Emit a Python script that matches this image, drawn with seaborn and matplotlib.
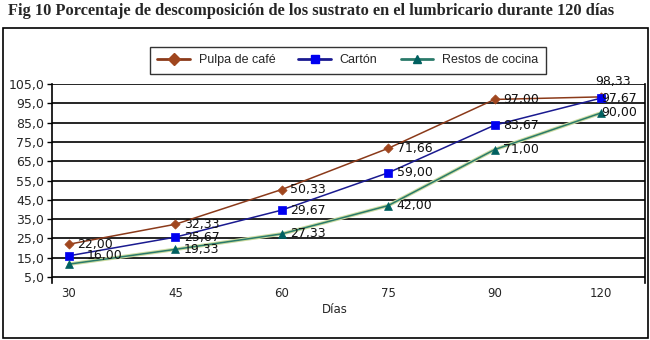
import matplotlib
matplotlib.use("Agg")
import matplotlib.pyplot as plt
import matplotlib.patheffects as pe
from matplotlib.lines import Line2D
from matplotlib.patches import Rectangle
import seaborn as sns
import pandas as pd

# ---- data ----
dias = ["30", "45", "60", "75", "90", "120"]
pulpa = [22.00, 32.33, 50.33, 71.66, 97.00, 98.33]
carton = [16.00, 25.67, 39.67, 59.00, 83.67, 97.67]
restos = [11.67, 19.33, 27.33, 42.00, 71.00, 90.00]
pulpa_lbl = ["22,00", "32,33", "50,33", "71,66", "97,00", "98,33"]
carton_lbl = ["16,00", "25,67", "29,67", "59,00", "83,67", "97,67"]
restos_lbl = ["", "19,33", "27,33", "42,00", "71,00", "90,00"]
series_names = ["Pulpa de café", "Cartón", "Restos de cocina"]
yticks = [5, 15, 25, 35, 45, 55, 65, 75, 85, 95, 105]
title = "Fig 10 Porcentaje de descomposición de los sustrato en el lumbricario durante 120 días"

sns.set_theme(style="white")
plt.rcParams['font.family'] = ['DejaVu Sans']

pos = list(range(len(dias)))
df = pd.DataFrame({
    "pos": pos * 3,
    "val": pulpa + carton + restos,
    "serie": [series_names[0]] * 6 + [series_names[1]] * 6 + [series_names[2]] * 6,
})

line_cols = {series_names[0]: "#8B3A1A", series_names[1]: "#1A1A90", series_names[2]: "#2A7A6A"}
mark_cols = {series_names[0]: "#A0461E", series_names[1]: "#0000F0", series_names[2]: "#006060"}
markers = {series_names[0]: "D", series_names[1]: "s", series_names[2]: "^"}
msizes = {series_names[0]: 22, series_names[1]: 28, series_names[2]: 32}

fig = plt.figure(figsize=(6.5, 3.4), dpi=100)
ax = fig.add_axes([52/650, 1-282.8/340, 593/650, (282.8-84)/340])

sns.lineplot(data=df, x="pos", y="val", hue="serie", palette=line_cols,
             linewidth=1.1, legend=False, ax=ax, sort=False, zorder=3)
for ln in ax.get_lines():
    if matplotlib.colors.to_hex(ln.get_color()).lower() == "#2a7a6a":
        ln.set_path_effects([pe.Stroke(linewidth=2.6, foreground="#CCDCA0"), pe.Normal()])
for name in series_names:
    sub = df[df.serie == name]
    sns.scatterplot(x=sub["pos"], y=sub["val"], marker=markers[name], s=msizes[name],
                    color=mark_cols[name], edgecolor=mark_cols[name], linewidth=0.5,
                    legend=False, ax=ax, zorder=4)

# data labels
for vals, lbls, name in [(pulpa, pulpa_lbl, series_names[0]),
                         (carton, carton_lbl, series_names[1]),
                         (restos, restos_lbl, series_names[2])]:
    for i, (v, t) in enumerate(zip(vals, lbls)):
        if not t:
            continue
        if i == len(vals) - 1:
            off = (-4, 11) if name == series_names[0] else (0, 0)
        elif i == 0 and name == series_names[1]:
            off = (13, 0)
        else:
            off = (6, 0)
        ax.annotate(t, (i, v), xytext=off, textcoords="offset points",
                    ha="left", va="center", fontsize=9, color="#111111", zorder=5)

ax.set_xlim(-0.16, 5.414)
ax.set_ylim(2, 105)
ax.set_yticks(yticks)
ax.set_yticklabels([f"{t:.1f}".replace(".", ",") for t in yticks], fontsize=9)
ax.set_xticks(pos)
ax.set_xticklabels(dias, fontsize=8.5)
ax.tick_params(axis="x", length=0, pad=3)
ax.tick_params(axis="y", length=3.5, width=1, color="black", left=True, pad=2)
for t in yticks:
    ax.axhline(t, color="black", linewidth=1.2, zorder=1)
ax.set_xlabel("Días", fontsize=8.5)
ax.xaxis.set_label_coords((335-52)/593, -0.10)
ax.xaxis.label.set_va("top")
ax.set_ylabel("")
ax.spines["top"].set_visible(False)
ax.spines["bottom"].set_visible(False)
for s in ("left", "right"):
    ax.spines[s].set_color("black")
    ax.spines[s].set_linewidth(1.2)

handles = [Line2D([0], [0], color=line_cols[n], marker=markers[n], markersize=6,
                  markerfacecolor=mark_cols[n], markeredgecolor=mark_cols[n], linewidth=2)
           for n in series_names]
leg = fig.legend(handles, series_names, loc="center", bbox_to_anchor=(0.535, 1-60/340),
                 ncol=3, frameon=True, fancybox=False, edgecolor="black",
                 prop={"family": "Liberation Sans", "size": 9}, handlelength=2.6,
                 columnspacing=1.85, borderpad=0.6, handletextpad=0.7)
leg.get_frame().set_linewidth(1.0)

fig.patches.append(Rectangle((3/650, 1-338/340), 645/650, 310/340, transform=fig.transFigure,
                             fill=False, edgecolor="black", linewidth=1.2))
fig.text(8/650, 1-11/340, title, fontfamily="Liberation Serif", fontweight="bold",
         fontsize=11.8, va="center", ha="left")

fig.savefig("out.png", dpi=100)
